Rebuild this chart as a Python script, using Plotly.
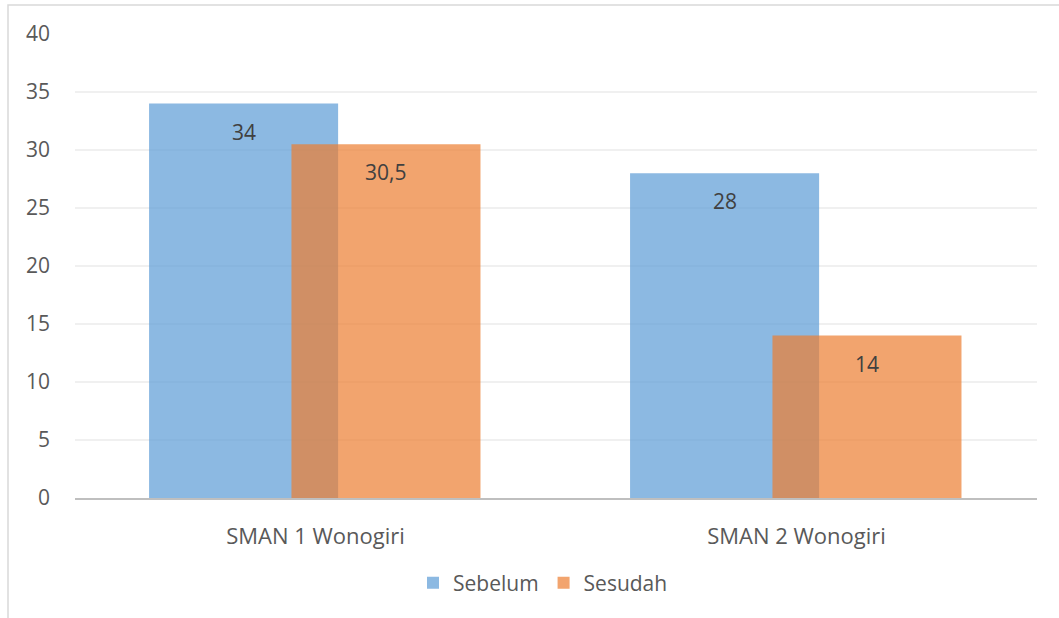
import plotly.graph_objects as go

categories = ["SMAN 1 Wonogiri", "SMAN 2 Wonogiri"]
sebelum = [34, 28]
sesudah = [30.5, 14]
y_ticks = [0, 5, 10, 15, 20, 25, 30, 35, 40]

def fmt(v):
    return ("%g" % v).replace(".", ",")

FONT = "Open Sans"
TXT = "#595959"
BAR_W = 0.393
OFFS = {"Sebelum": -0.346, "Sesudah": -0.05}

L, R, T, B = 75, 22, 34, 120
W, H = 1059, 618
pw, ph = W - L - R, H - T - B

fig = go.Figure()
fig.add_trace(go.Bar(
    name="Sebelum", x=categories, y=sebelum,
    marker=dict(color="rgba(91,155,213,0.7)", line=dict(width=0)),
    width=BAR_W, offset=OFFS["Sebelum"], hoverinfo="skip",
))
fig.add_trace(go.Bar(
    name="Sesudah", x=categories, y=sesudah,
    marker=dict(color="rgba(237,125,49,0.7)", line=dict(width=0)),
    width=BAR_W, offset=OFFS["Sesudah"], hoverinfo="skip",
))

annotations = []
for name, vals in (("Sebelum", sebelum), ("Sesudah", sesudah)):
    shift = (OFFS[name] + BAR_W / 2) * pw / len(categories)
    for c, v in zip(categories, vals):
        annotations.append(dict(
            x=c, y=v, xref="x", yref="y", text=fmt(v), showarrow=False,
            xshift=shift, yshift=-28, yanchor="middle",
            font=dict(family=FONT, size=21, color="#404040"),
        ))

fig.update_layout(
    width=W, height=H,
    margin=dict(l=L, r=R, t=T, b=B),
    barmode="overlay",
    paper_bgcolor="white", plot_bgcolor="white",
    font=dict(family=FONT, size=21, color=TXT),
    showlegend=True,
    legend=dict(orientation="h", x=(543 - L) / pw, xanchor="center",
                y=(498 - 583) / ph, yanchor="middle",
                font=dict(family=FONT, size=21, color=TXT),
                itemwidth=30, traceorder="normal"),
    xaxis=dict(type="category", showgrid=False, showline=True,
               linecolor="#BFBFBF", linewidth=2, ticks="",
               tickfont=dict(family=FONT, size=22, color=TXT),
               ticklabelstandoff=18, range=[-0.5, 1.5]),
    yaxis=dict(range=[0, 40], tickvals=y_ticks, showgrid=True,
               gridcolor="#F0F0F0", gridwidth=1.5, zeroline=False,
               showline=False, ticks="",
               tickfont=dict(family=FONT, size=21, color=TXT),
               ticklabelstandoff=24),
    annotations=annotations,
    shapes=[dict(type="rect", xref="paper", yref="paper",
                 x0=(8 - L) / pw, x1=(1070 - L) / pw,
                 y0=-(B + 20) / ph, y1=1 + (T - 5) / ph,
                 line=dict(color="#D9D9D9", width=1.5), layer="below")],
)

fig.write_html("out.html")
